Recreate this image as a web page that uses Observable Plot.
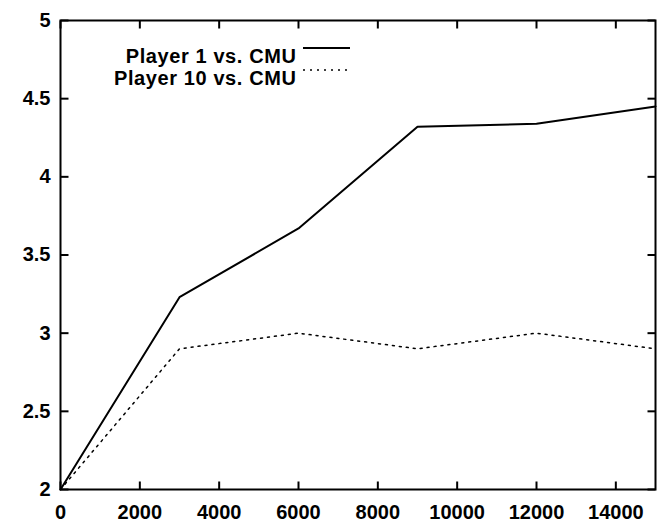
<!DOCTYPE html>
<html>
<head>
<meta charset="utf-8">
<script src="https://cdn.jsdelivr.net/npm/d3@7"></script>
<script src="https://cdn.jsdelivr.net/npm/@observablehq/plot@0.6"></script>
<style>
  html, body { margin: 0; padding: 0; background: #fff; }
  svg { display: block; }
</style>
</head>
<body>
<div id="chart"></div>
<script>
const steps = [0, 3000, 6000, 9000, 12000, 15000];
const player1 = [2.0, 3.23, 3.67, 4.32, 4.34, 4.45];
const player10 = [2.0, 2.9, 3.0, 2.9, 3.0, 2.9];
const seriesNames = ["Player 1 vs. CMU", "Player 10 vs. CMU"];
const xTicks = [0, 2000, 4000, 6000, 8000, 10000, 12000, 14000];
const yTicks = [2, 2.5, 3, 3.5, 4, 4.5, 5];

const rows1 = steps.map((s, i) => ({x: s, y: player1[i]}));
const rows10 = steps.map((s, i) => ({x: s, y: player10[i]}));

const W = 657, H = 522;
const mL = 60, mR = 2, mT = 20, mB = 33;
const xDomain = [0, 15000], yDomain = [2, 5];
const plotW = W - mL - mR, plotH = H - mT - mB;
const tick = 8;
const tyLen = tick * (yDomain[1] - yDomain[0]) / plotH;
const txLen = tick * (xDomain[1] - xDomain[0]) / plotW;
const font = "'Liberation Sans', Arial, Helvetica, sans-serif";

const tickRowsBottom = xTicks.map(v => ({x: v, y1: yDomain[0], y2: yDomain[0] + tyLen}));
const tickRowsTop = xTicks.map(v => ({x: v, y1: yDomain[1], y2: yDomain[1] - tyLen}));
const tickRowsLeft = yTicks.map(v => ({y: v, x1: xDomain[0], x2: xDomain[0] + txLen}));
const tickRowsRight = yTicks.map(v => ({y: v, x1: xDomain[1], x2: xDomain[1] - txLen}));

const plot = Plot.plot({
  width: W,
  height: H,
  marginLeft: mL,
  marginRight: mR,
  marginTop: mT,
  marginBottom: mB,
  style: {fontFamily: font, fontSize: "20px", fontWeight: "bold", background: "#fff", color: "#000"},
  x: {domain: xDomain, label: null},
  y: {domain: yDomain, label: null},
  marks: [
    Plot.axisX(xTicks, {anchor: "bottom", label: null, tickSize: 0, tickPadding: 15, tickFormat: d => String(d), fontSize: 20, fontWeight: "bold"}),
    Plot.axisY(yTicks, {anchor: "left", label: null, tickSize: 0, tickPadding: 10, tickFormat: d => String(d), fontSize: 20, fontWeight: "bold"}),
    Plot.link(tickRowsBottom, {x1: "x", x2: "x", y1: "y1", y2: "y2", stroke: "#000", strokeWidth: 2}),
    Plot.link(tickRowsTop, {x1: "x", x2: "x", y1: "y1", y2: "y2", stroke: "#000", strokeWidth: 2}),
    Plot.link(tickRowsLeft, {y1: "y", y2: "y", x1: "x1", x2: "x2", stroke: "#000", strokeWidth: 2}),
    Plot.link(tickRowsRight, {y1: "y", y2: "y", x1: "x1", x2: "x2", stroke: "#000", strokeWidth: 2}),
    Plot.frame({stroke: "#000", strokeWidth: 2}),
    Plot.line(rows1, {x: "x", y: "y", stroke: "#000", strokeWidth: 2}),
    Plot.line(rows10, {x: "x", y: "y", stroke: "#000", strokeWidth: 1.5, strokeDasharray: "2,5"}),
    Plot.text([seriesNames[0]], {text: d => d, frameAnchor: "top-left", dx: 236, dy: 28, textAnchor: "end", fontSize: 20, fontWeight: "bold", fill: "#000"}),
    Plot.text([seriesNames[1]], {text: d => d, frameAnchor: "top-left", dx: 236, dy: 50, textAnchor: "end", fontSize: 20, fontWeight: "bold", fill: "#000"})
  ]
});

const svg = d3.select(plot);
svg.selectAll("text").filter(function() { return /Player/.test(this.textContent); })
  .style("letter-spacing", "0.6px");
svg.append("line").attr("x1", 303).attr("x2", 350).attr("y1", 48).attr("y2", 48)
  .attr("stroke", "#000").attr("stroke-width", 2);
svg.append("line").attr("x1", 303).attr("x2", 350).attr("y1", 70).attr("y2", 70)
  .attr("stroke", "#000").attr("stroke-width", 1.5).attr("stroke-dasharray", "2,5");

document.getElementById("chart").appendChild(plot);
</script>
</body>
</html>
